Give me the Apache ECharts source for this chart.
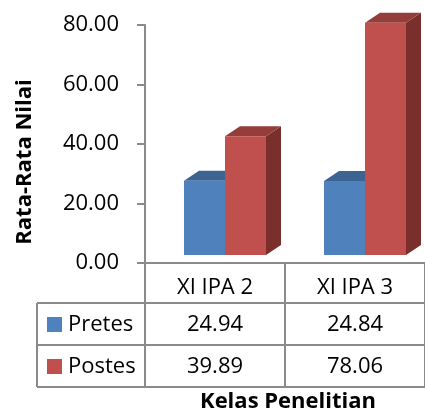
<!DOCTYPE html>
<html>
<head>
<meta charset="utf-8">
<script src="https://cdn.jsdelivr.net/npm/echarts@6/dist/echarts.min.js"></script>
<style>
  html, body { margin: 0; padding: 0; background: #fff; }
  #chart { width: 425px; height: 412px; }
</style>
</head>
<body>
<div id="chart"></div>
<script>
// Rata-rata nilai pretes / postes per kelas penelitian
const categories = ['XI IPA 2', 'XI IPA 3'];
const seriesNames = ['Pretes', 'Postes'];
const pretes = [24.94, 24.84];
const postes = [39.89, 78.06];
const yTicks = [0, 20, 40, 60, 80];
const yTitle = 'Rata-Rata Nilai';
const xTitle = 'Kelas Penelitian';

const FONT = '"Open Sans", "Noto Sans", sans-serif';
const FS = 22;
const TITLE_FS = 22;
const GRID = '#8a8a8a';

// face colours: front, top, side
const palette = [
  { front: '#4F81BD', top: '#3B6492', side: '#2E4E74' },
  { front: '#C0504D', top: '#943D3B', side: '#7A2F2D' }
];

// pseudo-3D column geometry (pixels)
const BAR_W = 41, DEPTH_X = 15, DEPTH_Y = 10, LIFT = 8, SHIFT = 10;

function make3dBar(seriesIdx) {
  const c = palette[seriesIdx];
  return function (params, api) {
    const cat = api.value(0);
    const val = api.value(1);
    const base = api.coord([cat, 0]);
    const top = api.coord([cat, val]);
    const cx = base[0] + SHIFT;
    const x0 = seriesIdx === 0 ? cx - BAR_W : cx;
    const x1 = x0 + BAR_W;
    const yb = base[1] - LIFT;
    const yt = top[1] - LIFT;
    return {
      type: 'group',
      children: [
        { type: 'polygon', shape: { points: [[x1, yt], [x1 + DEPTH_X, yt - DEPTH_Y], [x1 + DEPTH_X, yb - DEPTH_Y], [x1, yb]] },
          style: { fill: c.side } },
        { type: 'polygon', shape: { points: [[x0, yt], [x0 + DEPTH_X, yt - DEPTH_Y], [x1 + DEPTH_X, yt - DEPTH_Y], [x1, yt]] },
          style: { fill: c.top } },
        { type: 'rect', shape: { x: x0, y: yt, width: BAR_W, height: yb - yt },
          style: { fill: c.front } }
      ]
    };
  };
}

const chart = echarts.init(document.getElementById('chart'), null, { renderer: 'canvas' });

const option = {
  animation: false,
  backgroundColor: '#fff',
  grid: { left: 145, top: 25, width: 286, bottom: 149, containLabel: false },
  xAxis: {
    type: 'category',
    data: categories,
    boundaryGap: true,
    axisLine: { show: true, lineStyle: { color: GRID, width: 2 } },
    axisTick: { show: true, length: 40, lineStyle: { color: GRID, width: 2 } },
    axisLabel: { color: '#000', fontFamily: FONT, fontSize: FS, margin: 14 }
  },
  yAxis: {
    type: 'value',
    min: yTicks[0],
    max: yTicks[yTicks.length - 1],
    interval: 20,
    axisLine: { show: true, lineStyle: { color: GRID, width: 2 } },
    axisTick: { show: true, length: 8, lineStyle: { color: GRID, width: 2 } },
    splitLine: { show: false },
    axisLabel: {
      color: '#000', fontFamily: FONT, fontSize: FS, margin: 26,
      formatter: v => v.toFixed(2)
    }
  },
  series: [
    { name: seriesNames[0], type: 'custom', renderItem: make3dBar(0),
      data: pretes.map((v, i) => [i, v]), encode: { x: 0, y: 1 }, z: 2 },
    { name: seriesNames[1], type: 'custom', renderItem: make3dBar(1),
      data: postes.map((v, i) => [i, v]), encode: { x: 0, y: 1 }, z: 3 }
  ]
};
chart.setOption(option);

// data table under the category axis, plus both axis titles
function drawTable() {
  const rows = [pretes, postes];
  const zeroY = chart.convertToPixel({ yAxisIndex: 0 }, 0);
  const centers = categories.map((_, i) => chart.convertToPixel({ xAxisIndex: 0 }, i));
  const band = centers.length > 1 ? centers[1] - centers[0] : 143;
  const left = 37, axisX = centers[0] - band / 2, right = 425;
  const headerBottom = zeroY + 40;
  const rowH = 42;
  const els = [];
  const line = (x1, y1, x2, y2) => els.push({
    type: 'line', shape: { x1, y1, x2, y2 }, style: { stroke: GRID, lineWidth: 2 }, z: 10
  });
  // horizontal rules
  for (let r = 0; r <= rows.length; r++) {
    const y = headerBottom + r * rowH;
    line(left, y, right, y);
  }
  const tableBottom = headerBottom + rows.length * rowH;
  // vertical rules
  line(left, headerBottom, left, tableBottom);
  for (let i = 0; i <= categories.length; i++) {
    const x = axisX + i * band;
    line(x, headerBottom, x, tableBottom);
  }
  rows.forEach((vals, r) => {
    const cy = headerBottom + r * rowH + rowH / 2;
    els.push({ type: 'rect', shape: { x: 47, y: cy - 7, width: 15, height: 15 },
      style: { fill: palette[r].front }, z: 10 });
    els.push({ type: 'text', x: 68, y: cy + 1,
      style: { text: seriesNames[r], fill: '#000', font: FS + 'px ' + FONT, textAlign: 'left', textVerticalAlign: 'middle' }, z: 10 });
    vals.forEach((v, i) => {
      els.push({ type: 'text', x: centers[i], y: cy + 1,
        style: { text: v.toFixed(2), fill: '#000', font: FS + 'px ' + FONT, textAlign: 'center', textVerticalAlign: 'middle' }, z: 10 });
    });
  });
  // x-axis title below the table
  els.push({ type: 'text', x: axisX + band + 3, y: tableBottom + 15,
    style: { text: xTitle, fill: '#000', font: 'bold ' + TITLE_FS + 'px ' + FONT, textAlign: 'center', textVerticalAlign: 'middle' }, z: 10 });
  // y-axis title, rotated
  els.push({ type: 'text', x: 25, y: 162, rotation: Math.PI / 2,
    style: { text: yTitle, fill: '#000', font: 'bold ' + TITLE_FS + 'px ' + FONT, textAlign: 'center', textVerticalAlign: 'middle' }, z: 10 });
  chart.setOption({ graphic: els });
}
drawTable();
</script>
</body>
</html>
